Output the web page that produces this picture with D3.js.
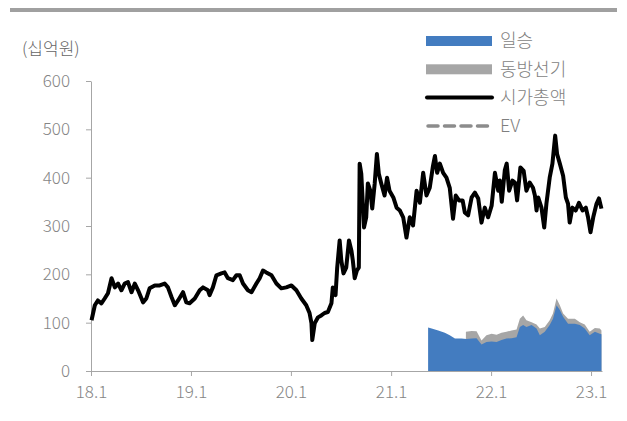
<!DOCTYPE html>
<html>
<head>
<meta charset="utf-8">
<script src="https://cdn.jsdelivr.net/npm/d3@7"></script>
<style>
  body { margin: 0; background: #fff; }
  svg text { font-family: "Noto Sans CJK KR", "Noto Sans", sans-serif; font-weight: 300; }
</style>
</head>
<body>
<div id="chart"></div>
<script>
var width = 627, height = 421;

// 시가총액 (십억원)
var capDates = [
  "2018-01-03","2018-01-15","2018-01-26","2018-02-08","2018-02-20","2018-03-04","2018-03-17","2018-03-29","2018-04-10","2018-04-22",
  "2018-05-04","2018-05-16","2018-05-29","2018-06-10","2018-06-22","2018-07-10","2018-07-22","2018-08-03","2018-08-22","2018-09-09",
  "2018-09-27","2018-10-09","2018-10-22","2018-11-03","2018-11-15","2018-12-03","2018-12-15","2018-12-27",
  "2019-01-15","2019-02-02","2019-02-14","2019-03-04","2019-03-10","2019-03-22","2019-04-04","2019-04-22","2019-05-04","2019-05-16",
  "2019-06-03","2019-06-16","2019-06-28","2019-07-10","2019-07-28","2019-08-10","2019-08-28","2019-09-09","2019-09-21","2019-10-03",
  "2019-10-22","2019-11-09","2019-11-27","2019-12-15",
  "2020-01-03","2020-01-21","2020-02-08","2020-02-26","2020-03-09","2020-03-16","2020-03-19","2020-03-28","2020-04-09","2020-04-21",
  "2020-05-03","2020-05-15","2020-05-28","2020-06-02","2020-06-12","2020-06-18","2020-06-27","2020-07-03","2020-07-11","2020-07-21",
  "2020-07-31","2020-08-09","2020-08-14","2020-08-21","2020-08-29","2020-09-05","2020-09-08","2020-09-14","2020-09-24","2020-10-02",
  "2020-10-08","2020-10-17","2020-10-24","2020-11-02","2020-11-10","2020-11-17","2020-11-26","2020-12-08","2020-12-17","2020-12-26",
  "2021-01-09","2021-01-21","2021-02-02","2021-02-14","2021-02-26","2021-03-10","2021-03-22","2021-04-04","2021-04-16","2021-04-28",
  "2021-05-10","2021-05-22","2021-06-03","2021-06-10","2021-06-18","2021-06-28","2021-07-10","2021-07-22","2021-08-03","2021-08-15",
  "2021-08-25","2021-09-06","2021-09-19","2021-09-27","2021-10-09","2021-10-22","2021-11-03","2021-11-15","2021-11-27","2021-12-09",
  "2021-12-21",
  "2022-01-03","2022-01-15","2022-01-27","2022-02-02","2022-02-09","2022-02-20","2022-02-27","2022-03-08","2022-03-20","2022-03-29",
  "2022-04-06","2022-04-18","2022-04-30","2022-05-10","2022-05-22","2022-06-03","2022-06-10","2022-06-16","2022-06-22","2022-07-04",
  "2022-07-14","2022-07-22","2022-08-03","2022-08-13","2022-08-23","2022-08-30","2022-09-09","2022-09-21","2022-10-01","2022-10-09",
  "2022-10-15","2022-10-25","2022-11-06","2022-11-18","2022-12-01","2022-12-13","2022-12-21","2022-12-30",
  "2023-01-09","2023-01-21","2023-01-30","2023-02-08"
];
var capValues = [
  105,136,146,140,150,161,192,173,181,167,
  181,184,163,181,167,142,150,171,177,177,
  181,173,153,136,146,163,142,140,
  150,167,173,167,157,173,198,202,204,192,
  188,198,198,181,167,163,181,192,208,204,
  198,181,171,173,
  177,167,150,136,120,99,64,99,111,115,
  120,122,140,173,157,214,270,229,202,214,
  270,249,229,192,208,214,429,408,297,318,
  388,373,336,388,449,408,388,363,400,373,
  359,338,332,318,276,318,301,373,348,410,
  363,379,425,445,410,429,410,400,379,315,
  363,353,353,328,322,359,369,357,307,338,
  318,
  342,410,373,394,350,415,429,373,394,390,
  353,421,414,373,390,379,363,332,359,338,
  297,346,400,429,487,449,429,404,359,346,
  307,338,332,348,332,338,318,287,
  318,346,357,336
];

// 일승
var ilseungDates = [
  "2021-05-16","2021-05-29","2021-06-22","2021-07-16","2021-08-03","2021-08-22","2021-09-15","2021-10-03","2021-10-22","2021-11-09",
  "2021-11-27","2021-12-15","2022-01-03","2022-01-21","2022-02-08","2022-02-26","2022-03-17","2022-04-04","2022-04-16","2022-04-28",
  "2022-05-10","2022-05-29","2022-06-16","2022-06-28","2022-07-16","2022-08-03","2022-08-15","2022-08-28","2022-09-09","2022-09-21",
  "2022-10-09","2022-11-03","2022-11-21","2022-12-09","2022-12-27","2023-01-15","2023-02-02","2023-02-08"
];
var ilseungValues = [
  90,88,84,79,74,67,67,66,67,68,
  55,60,61,60,64,67,68,70,91,95,
  91,95,88,74,81,95,108,136,126,112,
  98,98,95,88,74,81,77,76
];

// 동방선기
var dongbangDates = [
  "2021-10-01","2021-10-22","2021-11-09","2021-11-27","2021-12-15","2022-01-03","2022-01-21","2022-02-08","2022-02-26","2022-03-17",
  "2022-04-04","2022-04-16","2022-04-28","2022-05-10","2022-05-29","2022-06-16","2022-06-28","2022-07-16","2022-08-03","2022-08-15",
  "2022-08-28","2022-09-09","2022-09-21","2022-10-09","2022-11-03","2022-11-21","2022-12-09","2022-12-27","2023-01-15","2023-02-02",
  "2023-02-08"
];
var dongbangValues = [
  81,83,82,63,74,77,75,79,81,84,
  86,108,115,105,101,96,88,91,105,119,
  150,136,119,108,108,101,96,81,89,88,
  84
];

var yTicks = [0, 100, 200, 300, 400, 500, 600];
var xTickDates = ["2018-01-01","2019-01-01","2020-01-01","2021-01-01","2022-01-01","2023-01-01"];
var xTickLabels = ["18.1","19.1","20.1","21.1","22.1","23.1"];
var legendNames = ["일승", "동방선기", "시가총액", "EV"];

var parseDate = d3.timeParse("%Y-%m-%d");

var cap = capDates.map(function(d, i) { return { date: parseDate(d), value: capValues[i] }; });
var ilseung = ilseungDates.map(function(d, i) { return { date: parseDate(d), value: ilseungValues[i] }; });
var dongbang = dongbangDates.map(function(d, i) { return { date: parseDate(d), value: dongbangValues[i] }; });

var svg = d3.select("#chart").append("svg")
    .attr("width", width)
    .attr("height", height);

// top rule
svg.append("line")
    .attr("x1", 10).attr("x2", 617)
    .attr("y1", 10).attr("y2", 10)
    .attr("stroke", "#a0a0a0")
    .attr("stroke-width", 4);

var x = d3.scaleTime()
    .domain([parseDate("2018-01-01"), parseDate("2023-02-10")])
    .range([91, 602]);
var y = d3.scaleLinear()
    .domain([0, 600])
    .range([371, 81]);

// areas (gray behind, blue in front)
var area = d3.area()
    .x(function(d) { return x(d.date); })
    .y0(y(0))
    .y1(function(d) { return y(d.value); });

svg.append("path")
    .datum(dongbang)
    .attr("fill", "#a6a6a6")
    .attr("d", area);

svg.append("path")
    .datum(ilseung)
    .attr("fill", "#437cc0")
    .attr("d", area);

// axes
var xAxis = d3.axisBottom(x)
    .tickValues(xTickDates.map(parseDate))
    .tickFormat(function(d, i) { return xTickLabels[i]; })
    .tickSizeInner(5).tickSizeOuter(0)
    .tickPadding(10);
var gx = svg.append("g")
    .attr("transform", "translate(0," + y(0) + ")")
    .call(xAxis);

var yAxis = d3.axisLeft(y)
    .tickValues(yTicks)
    .tickSizeInner(5).tickSizeOuter(0)
    .tickPadding(16);
var gy = svg.append("g")
    .attr("transform", "translate(" + x.range()[0] + ",0)")
    .call(yAxis);

[gx, gy].forEach(function(g) {
  g.select(".domain").attr("stroke", "#a6a6a6");
  g.selectAll(".tick line").attr("stroke", "#a6a6a6");
  g.selectAll(".tick text")
    .attr("fill", "#858585")
    .style("font-size", "17px");
});

// market cap line
var line = d3.line()
    .x(function(d) { return x(d.date); })
    .y(function(d) { return y(d.value); });

svg.append("path")
    .datum(cap)
    .attr("fill", "none")
    .attr("stroke", "#000")
    .attr("stroke-width", 4)
    .attr("stroke-linejoin", "round")
    .attr("d", line);

// unit label
svg.append("text")
    .attr("x", 22)
    .attr("y", 49)
    .attr("dy", "0.35em")
    .attr("fill", "#666")
    .style("font-size", "17px")
    .text("(십억원)");

// legend
var legend = svg.append("g").attr("transform", "translate(426,41)");
var rowH = 28.3;

legend.append("rect")
    .attr("x", 0).attr("y", -5).attr("width", 66).attr("height", 10)
    .attr("fill", "#437cc0");
legend.append("rect")
    .attr("x", 0).attr("y", rowH - 5).attr("width", 66).attr("height", 10)
    .attr("fill", "#a6a6a6");
legend.append("line")
    .attr("x1", 1).attr("x2", 66)
    .attr("y1", rowH * 2).attr("y2", rowH * 2)
    .attr("stroke", "#000").attr("stroke-width", 4)
    .attr("stroke-linecap", "round");
legend.append("line")
    .attr("x1", 2).attr("x2", 66)
    .attr("y1", rowH * 3).attr("y2", rowH * 3)
    .attr("stroke", "#8c8c8c").attr("stroke-width", 3.5)
    .attr("stroke-linecap", "round")
    .attr("stroke-dasharray", "10,6.5");

legend.selectAll("text.lg")
    .data(legendNames)
    .enter().append("text")
    .attr("class", "lg")
    .attr("x", 74)
    .attr("y", function(d, i) { return i * rowH; })
    .attr("dy", "0.35em")
    .attr("fill", "#7f7f7f")
    .style("font-size", "18px")
    .text(function(d) { return d; });
</script>
</body>
</html>
